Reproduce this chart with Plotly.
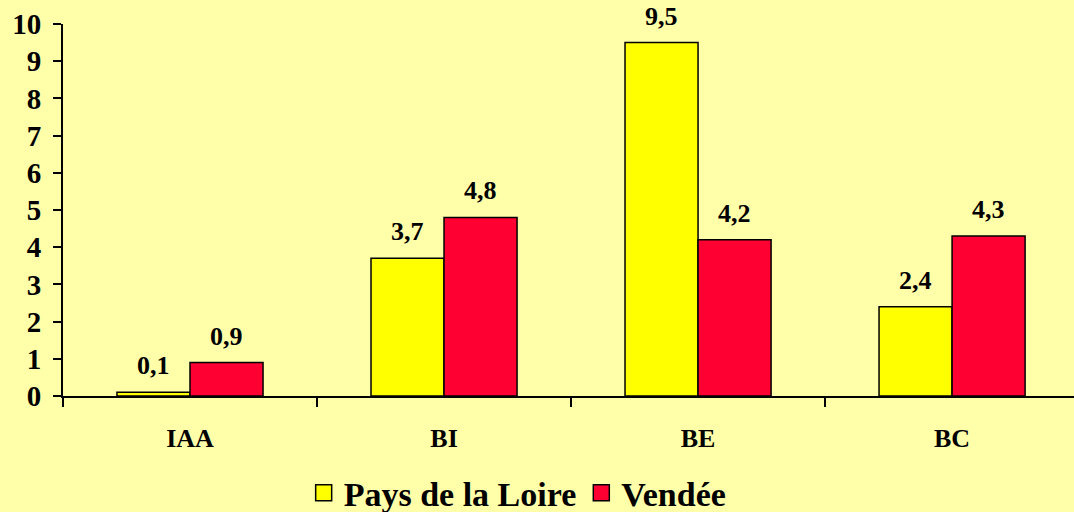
import plotly.graph_objects as go

categories = ["IAA", "BI", "BE", "BC"]
pays_de_la_loire = [0.1, 3.7, 9.5, 2.4]
vendee = [0.9, 4.8, 4.2, 4.3]
y_ticks = list(range(0, 11))

BG = "#FFFFAA"
YELLOW = "#FFFF00"
RED = "#FF0033"
SERIF = "Times New Roman, Liberation Serif, DejaVu Serif, serif"

fig = go.Figure()
for name, vals, color in (("Pays de la Loire", pays_de_la_loire, YELLOW),
                          ("Vendée", vendee, RED)):
    fig.add_trace(go.Bar(
        name=name, x=categories, y=vals, showlegend=False,
        marker=dict(color=color, line=dict(color="black", width=1.5)),
    ))
    # legend entry with a larger square swatch
    fig.add_trace(go.Scatter(
        name=name, x=[None], y=[None], mode="markers",
        marker=dict(symbol="square", size=17, color=color,
                    line=dict(color="black", width=1.5)),
    ))

# value labels above each bar (offset left/right within each group)
bar_px = 73
for series, shift in ((pays_de_la_loire, -bar_px / 2), (vendee, bar_px / 2)):
    for cat, val in zip(categories, series):
        fig.add_annotation(
            x=cat, y=val, xshift=shift, yshift=10,
            text=f"<b>{val:.1f}</b>".replace(".", ","),
            showarrow=False, yanchor="bottom",
            font=dict(family=SERIF, size=26, color="black"),
        )

fig.update_layout(
    width=1074, height=512,
    paper_bgcolor=BG, plot_bgcolor=BG,
    margin=dict(l=63, r=0, t=24, b=116, autoexpand=False),
    barmode="group", bargap=0.425, bargroupgap=0,
    showlegend=True,
    legend=dict(
        orientation="h", xref="container", x=0.482, xanchor="center",
        yref="container", y=0.037, yanchor="middle",
        font=dict(family=SERIF, size=34, color="black", weight="bold"),
        bgcolor="rgba(0,0,0,0)", itemwidth=30, tracegroupgap=0,
    ),
    font=dict(family=SERIF, color="black"),
)
fig.update_xaxes(
    range=[-0.5, 3.48], showgrid=False, zeroline=False, automargin=False,
    showline=True, linecolor="black", linewidth=2,
    ticks="outside", tickson="boundaries", ticklen=9, tickwidth=1.5, tickcolor="black",
    ticklabelstandoff=18,
    tickfont=dict(family=SERIF, size=26, color="black", weight="bold"),
)
fig.update_yaxes(
    range=[0, 10], tickvals=y_ticks, showgrid=False, zeroline=False, automargin=False,
    showline=True, linecolor="black", linewidth=2,
    ticks="outside", ticklen=8, tickwidth=2, tickcolor="black",
    ticklabelstandoff=6,
    tickfont=dict(family=SERIF, size=29, color="black", weight="bold"),
)

fig.write_html("out.html")
